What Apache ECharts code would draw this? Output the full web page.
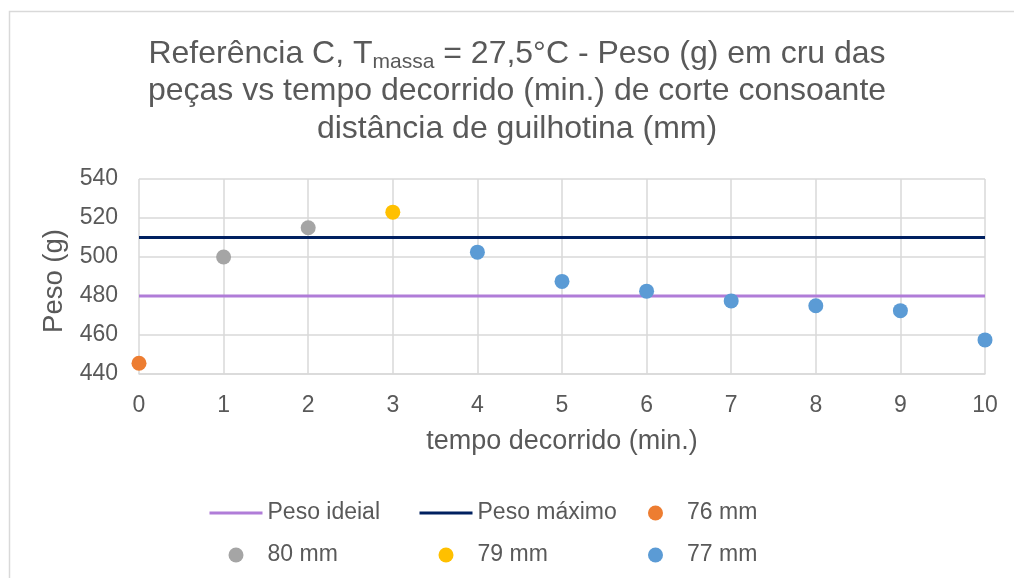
<!DOCTYPE html>
<html>
<head>
<meta charset="utf-8">
<script src="https://cdn.jsdelivr.net/npm/echarts@6/dist/echarts.min.js"></script>
<style>html,body{margin:0;padding:0;background:#fff}#c{width:1014px;height:578px}</style>
</head>
<body>
<div id="c"></div>
<script>
// ---- data ----
var xTicks = [0, 1, 2, 3, 4, 5, 6, 7, 8, 9, 10];
var yTicks = [440, 460, 480, 500, 520, 540];
var pesoIdealX = [0, 10];
var pesoIdealY = [480, 480];
var pesoMaxX = [0, 10];
var pesoMaxY = [510, 510];
var s76x = [0];        var s76y = [445.5];
var s80x = [1, 2];     var s80y = [500, 515];
var s79x = [3];        var s79y = [523];
var s77x = [4, 5, 6, 7, 8, 9, 10];
var s77y = [502.5, 487.5, 482.5, 477.5, 475, 472.5, 457.5];
var legendCol1 = ['Peso ideial', '80 mm'];
var legendCol2 = ['Peso máximo', '79 mm'];
var legendCol3 = ['76 mm', '77 mm'];

function pairs(xs, ys) { return xs.map(function (x, i) { return [x, ys[i]]; }); }

var font = 'Liberation Sans, Arial, sans-serif';
var txt = '#595959';
var lineNames = ['Peso ideial', 'Peso máximo'];
function legendItems(names) {
  return names.map(function (n) {
    return lineNames.indexOf(n) >= 0
      ? {name: n, itemStyle: {opacity: 0}, lineStyle: {width: 3}}
      : {name: n, icon: 'circle'};
  });
}
function makeLegend(names, left) {
  return {
    orient: 'vertical', left: left, top: 497, padding: 0, align: 'left',
    itemWidth: 53, itemHeight: 15, itemGap: 10,
    textStyle: {fontFamily: font, fontSize: 23, color: txt, lineHeight: 32},
    data: legendItems(names)
  };
}

var chart = echarts.init(document.getElementById('c'), null, {renderer: 'canvas'});
chart.setOption({
  animation: false,
  backgroundColor: '#fff',
  graphic: [{
    type: 'rect', z: -10, silent: true,
    shape: {x: 9.5, y: 11.5, width: 1200, height: 1000},
    style: {fill: 'none', stroke: '#d9d9d9', lineWidth: 1.5}
  }],
  title: {
    left: 512, top: 30, textAlign: 'center',
    text: '{a|Referência C, T}{sub|massa}{a| = 27,5°C - Peso (g) em cru das}\n{a|peças vs tempo decorrido (min.) de corte consoante}\n{a|distância de guilhotina (mm)}',
    textStyle: {
      fontWeight: 'normal',
      rich: {
        a: {fontFamily: font, fontSize: 32, fontWeight: 'normal', color: txt, lineHeight: 37.5},
        sub: {fontFamily: font, fontSize: 21, fontWeight: 'normal', color: txt, lineHeight: 20, verticalAlign: 'bottom'}
      }
    }
  },
  grid: {left: 139, right: 29, top: 179, bottom: 204, containLabel: false},
  xAxis: {
    type: 'value', min: xTicks[0], max: xTicks[xTicks.length - 1], interval: 1,
    name: 'tempo decorrido (min.)', nameLocation: 'middle', nameGap: 54,
    nameTextStyle: {fontFamily: font, fontSize: 27, color: txt},
    axisLine: {show: true, lineStyle: {color: '#d9d9d9', width: 1.5}},
    axisTick: {show: false},
    axisLabel: {fontFamily: font, fontSize: 23, color: txt, margin: 20},
    splitLine: {show: true, lineStyle: {color: '#d9d9d9', width: 1.5}}
  },
  yAxis: {
    type: 'value', min: yTicks[0], max: yTicks[yTicks.length - 1], interval: 20,
    name: 'Peso (g)', nameLocation: 'middle', nameGap: 65, nameRotate: 90,
    nameTextStyle: {fontFamily: font, fontSize: 27.5, color: txt, padding: [0, 9, 0, 0]},
    axisLine: {show: false},
    axisTick: {show: false},
    axisLabel: {fontFamily: font, fontSize: 23, color: txt, margin: 21},
    splitLine: {show: true, lineStyle: {color: '#d9d9d9', width: 1.5}}
  },
  legend: [makeLegend(legendCol1, 208), makeLegend(legendCol2, 418), makeLegend(legendCol3, 648)],
  series: [
    {name: 'Peso ideial', type: 'line', data: pairs(pesoIdealX, pesoIdealY), symbol: 'none',
     lineStyle: {color: '#b07cd8', width: 3}, itemStyle: {color: '#b07cd8'}, z: 2},
    {name: 'Peso máximo', type: 'line', data: pairs(pesoMaxX, pesoMaxY), symbol: 'none',
     lineStyle: {color: '#002060', width: 3}, itemStyle: {color: '#002060'}, z: 2},
    {name: '76 mm', type: 'scatter', data: pairs(s76x, s76y), symbolSize: 15, itemStyle: {color: '#ED7D31', opacity: 1}, z: 3},
    {name: '80 mm', type: 'scatter', data: pairs(s80x, s80y), symbolSize: 15, itemStyle: {color: '#A5A5A5', opacity: 1}, z: 3},
    {name: '79 mm', type: 'scatter', data: pairs(s79x, s79y), symbolSize: 15, itemStyle: {color: '#FFC000', opacity: 1}, z: 3},
    {name: '77 mm', type: 'scatter', data: pairs(s77x, s77y), symbolSize: 15, itemStyle: {color: '#5B9BD5', opacity: 1}, z: 3}
  ]
});
</script>
</body>
</html>
